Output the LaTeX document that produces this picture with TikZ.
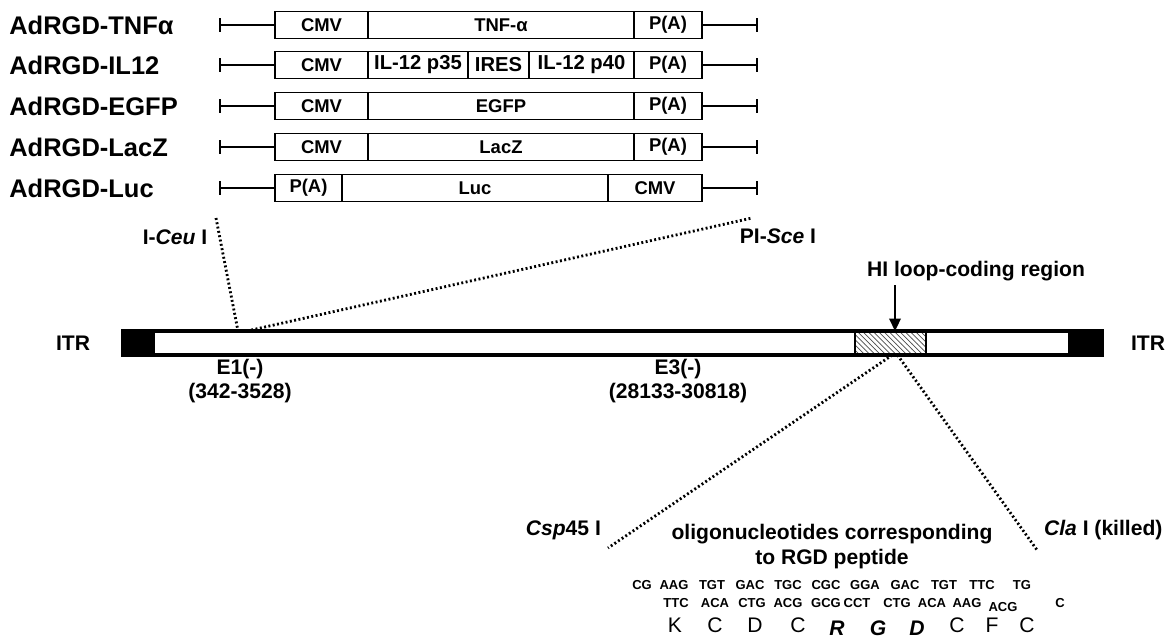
\documentclass[tikz,border=0pt]{standalone}
\usepackage{fontspec}
\setmainfont{Liberation Sans}
\usetikzlibrary{arrows.meta, patterns, positioning}

\begin{document}
\begin{tikzpicture}[x=0.02cm, y=-0.02cm,
    rowlab/.style={anchor=west, inner sep=0pt, font=\fontsize{14.5}{16}\selectfont\bfseries},
    cell/.style={draw, line width=0.9pt, minimum height=0.54cm, inner sep=0pt, font=\fontsize{10.5}{12}\selectfont\bfseries},
    rail/.style={line width=1.2pt},
    lab/.style={inner sep=1pt, font=\fontsize{12}{14}\selectfont\bfseries},
    cutline/.style={line width=1.6pt, dash pattern=on 1.1pt off 1.4pt},
    codon/.style={inner sep=0pt, font=\fontsize{7.4}{9}\selectfont\bfseries},
    aa/.style={inner sep=0pt, font=\fontsize{12}{14}\selectfont}]
    \useasboundingbox (0,0) rectangle (1174,639);

    % Constructs
    \node[rowlab] (labtnf) at (9,25) {AdRGD-TNFα};
    \foreach \a/\b/\t [count=\i] in {275/368/CMV, 368/634/TNF-α, 634/702/P(A)}
        \node[cell, minimum width={(\b-\a)*0.02cm}] (tnf\i) at ({(\a+\b)/2},25) {\t};
    \coordinate (tnfL) at (219,25);
    \coordinate (tnfR) at (758,25);
    \draw[rail, {Bar[width=7.5pt]}-] (tnfL) -- (tnf1.west);
    \draw[rail, -{Bar[width=7.5pt]}] (tnf3.east) -- (tnfR);

    \node[rowlab] (labil) at (9,65) {AdRGD-IL12};
    \foreach \a/\b/\s/\t [count=\i] in {275/368/10.5/CMV, 368/468/11.5/IL-12 p35, 468/529/11.5/IRES, 529/634/11.5/IL-12 p40, 634/702/10.5/P(A)}
        \node[cell, minimum width={(\b-\a)*0.02cm}, font=\fontsize{\s}{12}\selectfont\bfseries] (il\i) at ({(\a+\b)/2},65) {\t};
    \coordinate (ilL) at (219,65);
    \coordinate (ilR) at (758,65);
    \draw[rail, {Bar[width=7.5pt]}-] (ilL) -- (il1.west);
    \draw[rail, -{Bar[width=7.5pt]}] (il5.east) -- (ilR);

    \node[rowlab] (labegfp) at (9,106) {AdRGD-EGFP};
    \foreach \a/\b/\t [count=\i] in {275/368/CMV, 368/634/EGFP, 634/702/P(A)}
        \node[cell, minimum width={(\b-\a)*0.02cm}] (egfp\i) at ({(\a+\b)/2},106) {\t};
    \coordinate (egfpL) at (219,106);
    \coordinate (egfpR) at (758,106);
    \draw[rail, {Bar[width=7.5pt]}-] (egfpL) -- (egfp1.west);
    \draw[rail, -{Bar[width=7.5pt]}] (egfp3.east) -- (egfpR);

    \node[rowlab] (lablacz) at (9,147) {AdRGD-LacZ};
    \foreach \a/\b/\t [count=\i] in {275/368/CMV, 368/634/LacZ, 634/702/P(A)}
        \node[cell, minimum width={(\b-\a)*0.02cm}] (lacz\i) at ({(\a+\b)/2},147) {\t};
    \coordinate (laczL) at (219,147);
    \coordinate (laczR) at (758,147);
    \draw[rail, {Bar[width=7.5pt]}-] (laczL) -- (lacz1.west);
    \draw[rail, -{Bar[width=7.5pt]}] (lacz3.east) -- (laczR);

    \node[rowlab] (labluc) at (9,188) {AdRGD-Luc};
    \foreach \a/\b/\t [count=\i] in {275/342/P(A), 342/608/Luc, 608/702/CMV}
        \node[cell, minimum width={(\b-\a)*0.02cm}] (luc\i) at ({(\a+\b)/2},188) {\t};
    \coordinate (lucL) at (219,188);
    \coordinate (lucR) at (758,188);
    \draw[rail, {Bar[width=7.5pt]}-] (lucL) -- (luc1.west);
    \draw[rail, -{Bar[width=7.5pt]}] (luc3.east) -- (lucR);

    % Genome
    \node[draw, line width=1.6pt, minimum width=19.54cm, minimum height=0.44cm, inner sep=0pt] (genome) at (612.5,343) {};
    \node[fill=black, minimum width=0.64cm, minimum height=0.44cm, inner sep=0pt, anchor=west] (itrL) at (genome.west) {};
    \node[fill=black, minimum width=0.68cm, minimum height=0.44cm, inner sep=0pt, anchor=east] (itrR) at (genome.east) {};
    \node[draw, line width=1.2pt, pattern=north west lines, pattern color=black!70, minimum width=1.42cm, minimum height=0.44cm, inner sep=0pt] (hiloop) at (890.5,343) {};
    \draw[line width=1.6pt] (genome.south west) rectangle (genome.north east);

    % Labels
    \node[lab] (itrLlab) at (73,343) {ITR};
    \node[lab] (itrRlab) at (1148,343) {ITR};
    \node[lab] (e1) at (240,369) {E1(-)};
    \node[lab, below=0pt of e1] (e1pos) {(342-3528)};
    \node[lab] (e3) at (678,369) {E3(-)};
    \node[lab, below=0pt of e3] (e3pos) {(28133-30818)};
    \node[lab] (ceu) at (175,237) {I-\textit{Ceu} I};
    \node[lab] (sce) at (778,236) {PI-\textit{Sce} I};
    \node[lab] (hilab) at (976,271) {HI loop-coding region};
    \node[lab, anchor=east] (csp) at (603,530) {\textit{Csp}45 I};
    \node[lab, anchor=west] (cla) at (1042,530) {\textit{Cla} I (killed)};
    \node[lab, align=center, font=\fontsize{12}{14.2}\selectfont\bfseries] (oligo) at (832,547) {oligonucleotides corresponding\\to RGD peptide};

    % Arrows and cut lines
    \coordinate (hiTop) at (895,285);
    \draw[line width=1.2pt, -{Triangle[length=7pt, width=6.5pt]}] (hiTop) -- (hiTop |- hiloop.north);
    \coordinate (ceuTop) at (216,218);
    \coordinate (ceuBot) at (238,331);
    \coordinate (sceBot) at (247,331);
    \coordinate (sceTop) at (752,218);
    \draw[cutline] (ceuTop) -- (ceuBot);
    \draw[cutline] (sceBot) -- (sceTop);
    \coordinate (cspEnd) at (608,548);
    \coordinate (claEnd) at (1037,550);
    \draw[cutline] ([xshift=1pt]hiloop.south) -- (cspEnd);
    \draw[cutline] ([xshift=4pt]hiloop.south) -- (claEnd);

    % Sequence
    \foreach \x/\t [count=\i] in {642/CG, 674/AAG, 712/TGT, 750/GAC, 788/TGC, 826/CGC, 865/GGA, 905/GAC, 944/TGT, 982/TTC, 1022/TG}
        \node[codon] (sense\i) at (\x,585) {\t};
    \foreach \x/\t [count=\i] in {676/TTC, 715/ACA, 752/CTG, 788/ACG, 826/GCG, 857/CCT, 897/CTG, 932/ACA, 967/AAG, 1060/C}
        \node[codon] (anti\i) at (\x,603) {\t};
    \node[codon] (antiacg) at (1003,607) {ACG};
    \foreach \x/\t [count=\i] in {675/K, 715/C, 755/D, 798/C, 957/C, 992/F, 1027/C}
        \node[aa] (aa\i) at (\x,625) {\t};
    \foreach \x/\t [count=\i] in {837/R, 878/G, 917/D}
        \node[aa, font=\fontsize{12}{14}\selectfont\bfseries\itshape] (rgd\i) at (\x,628) {\t};
\end{tikzpicture}
\end{document}
